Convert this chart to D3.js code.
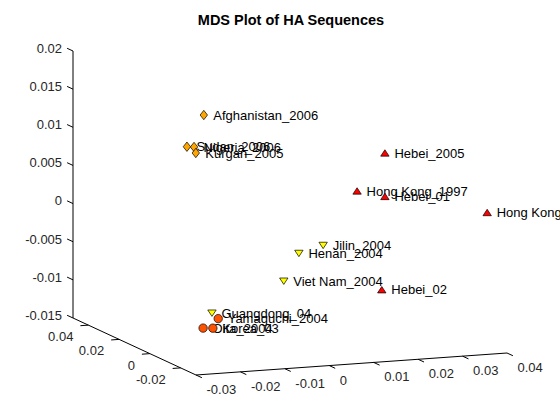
<!DOCTYPE html>
<html><head><meta charset="utf-8">
<script src="https://cdn.jsdelivr.net/npm/d3@7"></script>
<style>body{margin:0;background:#fff}svg{display:block}</style>
</head><body>
<svg id="chart" width="560" height="420"></svg>
<script>
// ---- data ----
const names  = ["Afghanistan_2006","Sudan_2006","Nigeria_2006","Kurgan_2005",
                "Hebei_2005","Hong Kong_1997","Hebei_01","Hong Kong_2003","Hebei_02",
                "Jilin_2004","Henan_2004","Viet Nam_2004","Guangdong_04",
                "Yamaguchi_2004","Oita_2004","Korea_03"];
const xVals  = [-0.0144,-0.0182,-0.0166,-0.0162, 0.0229,0.0201,0.0229,0.0390,0.0222,
                 0.0090, 0.0070, 0.0036,-0.0091,-0.0077,-0.0111,-0.0089];
const yVals  = [ 0.01, 0.01, 0.01, 0.01, 0.00, 0.01, 0.00,-0.02, 0.00,
                 0.00, 0.01, 0.01, 0.02, 0.02, 0.02, 0.02];
const zVals  = [ 0.0147, 0.0107, 0.0106, 0.0098, 0.0091, 0.0033, 0.0034, 0.0025,-0.0088,
                -0.0024,-0.0043,-0.0078,-0.0124,-0.0132,-0.0143,-0.0144];
const groups = ["diamond","diamond","diamond","diamond","up","up","up","up","up",
                "down","down","down","down","circle","circle","circle"];
const xTicks = [-0.03,-0.02,-0.01,0,0.01,0.02,0.03,0.04];
const yTicks = [-0.02,0,0.02,0.04];
const zTicks = [-0.015,-0.01,-0.005,0,0.005,0.01,0.015,0.02];
const xDomain = [-0.03,0.04], yDomain = [-0.03,0.05], zDomain = [-0.015,0.02];
const title = "MDS Plot of HA Sequences";

// ---- layout / styles ----
const font = "'Liberation Sans', Arial, Helvetica, sans-serif";
const origin = [196,375], xVec = [311,-22], yVec = [-123,-57], zVec = [0,-267];
const styles = {
  diamond:{fill:"#ffa500", path:"M0,-4.7L3.7,0L0,4.7L-3.7,0Z"},
  up:{fill:"#ff0000", path:"M0,-3.4L4.2,3L-4.2,3Z"},
  down:{fill:"#ffff00", path:"M0,3.4L4.2,-3L-4.2,-3Z"},
  circle:{fill:"#ff5200", path:null}
};

const sx = d3.scaleLinear().domain(xDomain).range([0,1]);
const sy = d3.scaleLinear().domain(yDomain).range([0,1]);
const sz = d3.scaleLinear().domain(zDomain).range([0,1]);
function proj(x,y,z){
  const u=sx(x), v=sy(y), w=sz(z);
  return [origin[0]+u*xVec[0]+v*yVec[0]+w*zVec[0],
          origin[1]+u*xVec[1]+v*yVec[1]+w*zVec[1]];
}
function unit(vec,s){const n=Math.hypot(vec[0],vec[1]);return [vec[0]/n*s,vec[1]/n*s];}

const svg = d3.select("#chart");
svg.append("rect").attr("width",560).attr("height",420).attr("fill","#fff");

const [x0,x1]=xDomain,[y0,y1]=yDomain,[z0,z1]=zDomain;
const ax = svg.append("g").attr("stroke","#000").attr("stroke-width",1).attr("fill","none");
function seg(a,b){ax.append("line").attr("x1",a[0]).attr("y1",a[1]).attr("x2",b[0]).attr("y2",b[1]);}
seg(proj(x0,y0,z0),proj(x1,y0,z0));
seg(proj(x0,y0,z0),proj(x0,y1,z0));
seg(proj(x0,y1,z0),proj(x0,y1,z1));

const lab = svg.append("g").attr("font-family",font).attr("font-size",13).attr("fill","#262626");

// z ticks (point in +y direction)
const zt = unit(yVec,6.5);
zTicks.forEach(t=>{
  const p=proj(x0,y1,t), q=[p[0]+zt[0],p[1]+zt[1]];
  seg(p,q);
  lab.append("text").attr("x",q[0]-5).attr("y",q[1]).attr("dy","0.35em")
     .attr("text-anchor","end").text(String(t));
});
// y ticks (point in -x direction)
const yt = unit([-xVec[0],-xVec[1]],8);
yTicks.forEach(t=>{
  const p=proj(x0,t,z0), q=[p[0]+yt[0],p[1]+yt[1]];
  seg(p,q);
  lab.append("text").attr("x",p[0]-15).attr("y",p[1]+11.5).attr("dy","0.35em")
     .attr("text-anchor","end").text(String(t));
});
// x ticks (point in -y direction)
const xt = unit([-yVec[0],-yVec[1]],6.5);
xTicks.forEach(t=>{
  const p=proj(t,y0,z0), q=[p[0]+xt[0],p[1]+xt[1]];
  seg(p,q);
  lab.append("text").attr("x",p[0]+10.5).attr("y",p[1]+14.5).attr("dy","0.35em")
     .attr("text-anchor","start").text(String(t));
});

// title
svg.append("text").attr("x",291).attr("y",24.5).attr("text-anchor","middle")
   .attr("font-family",font).attr("font-size",14.5).attr("font-weight","bold")
   .attr("fill","#000").text(title);

// points
const pts = names.map((n,i)=>({name:n,g:groups[i],p:proj(xVals[i],yVals[i],zVals[i])}));
svg.append("g").attr("font-family",font).attr("font-size",13).attr("fill","#000")
  .selectAll("text").data(pts).join("text")
  .attr("x",d=>d.p[0]+9.5).attr("y",d=>d.p[1]).attr("dy","0.35em").text(d=>d.name);

const mk = svg.append("g");
pts.forEach(d=>{
  const st=styles[d.g];
  if(st.path){
    mk.append("path").attr("d",st.path).attr("transform",`translate(${d.p[0]},${d.p[1]})`)
      .attr("fill",st.fill).attr("stroke","#000").attr("stroke-width",0.7);
  } else {
    mk.append("circle").attr("cx",d.p[0]).attr("cy",d.p[1]).attr("r",4.2)
      .attr("fill",st.fill).attr("stroke","#000").attr("stroke-width",0.7);
  }
});
</script>
</body></html>
